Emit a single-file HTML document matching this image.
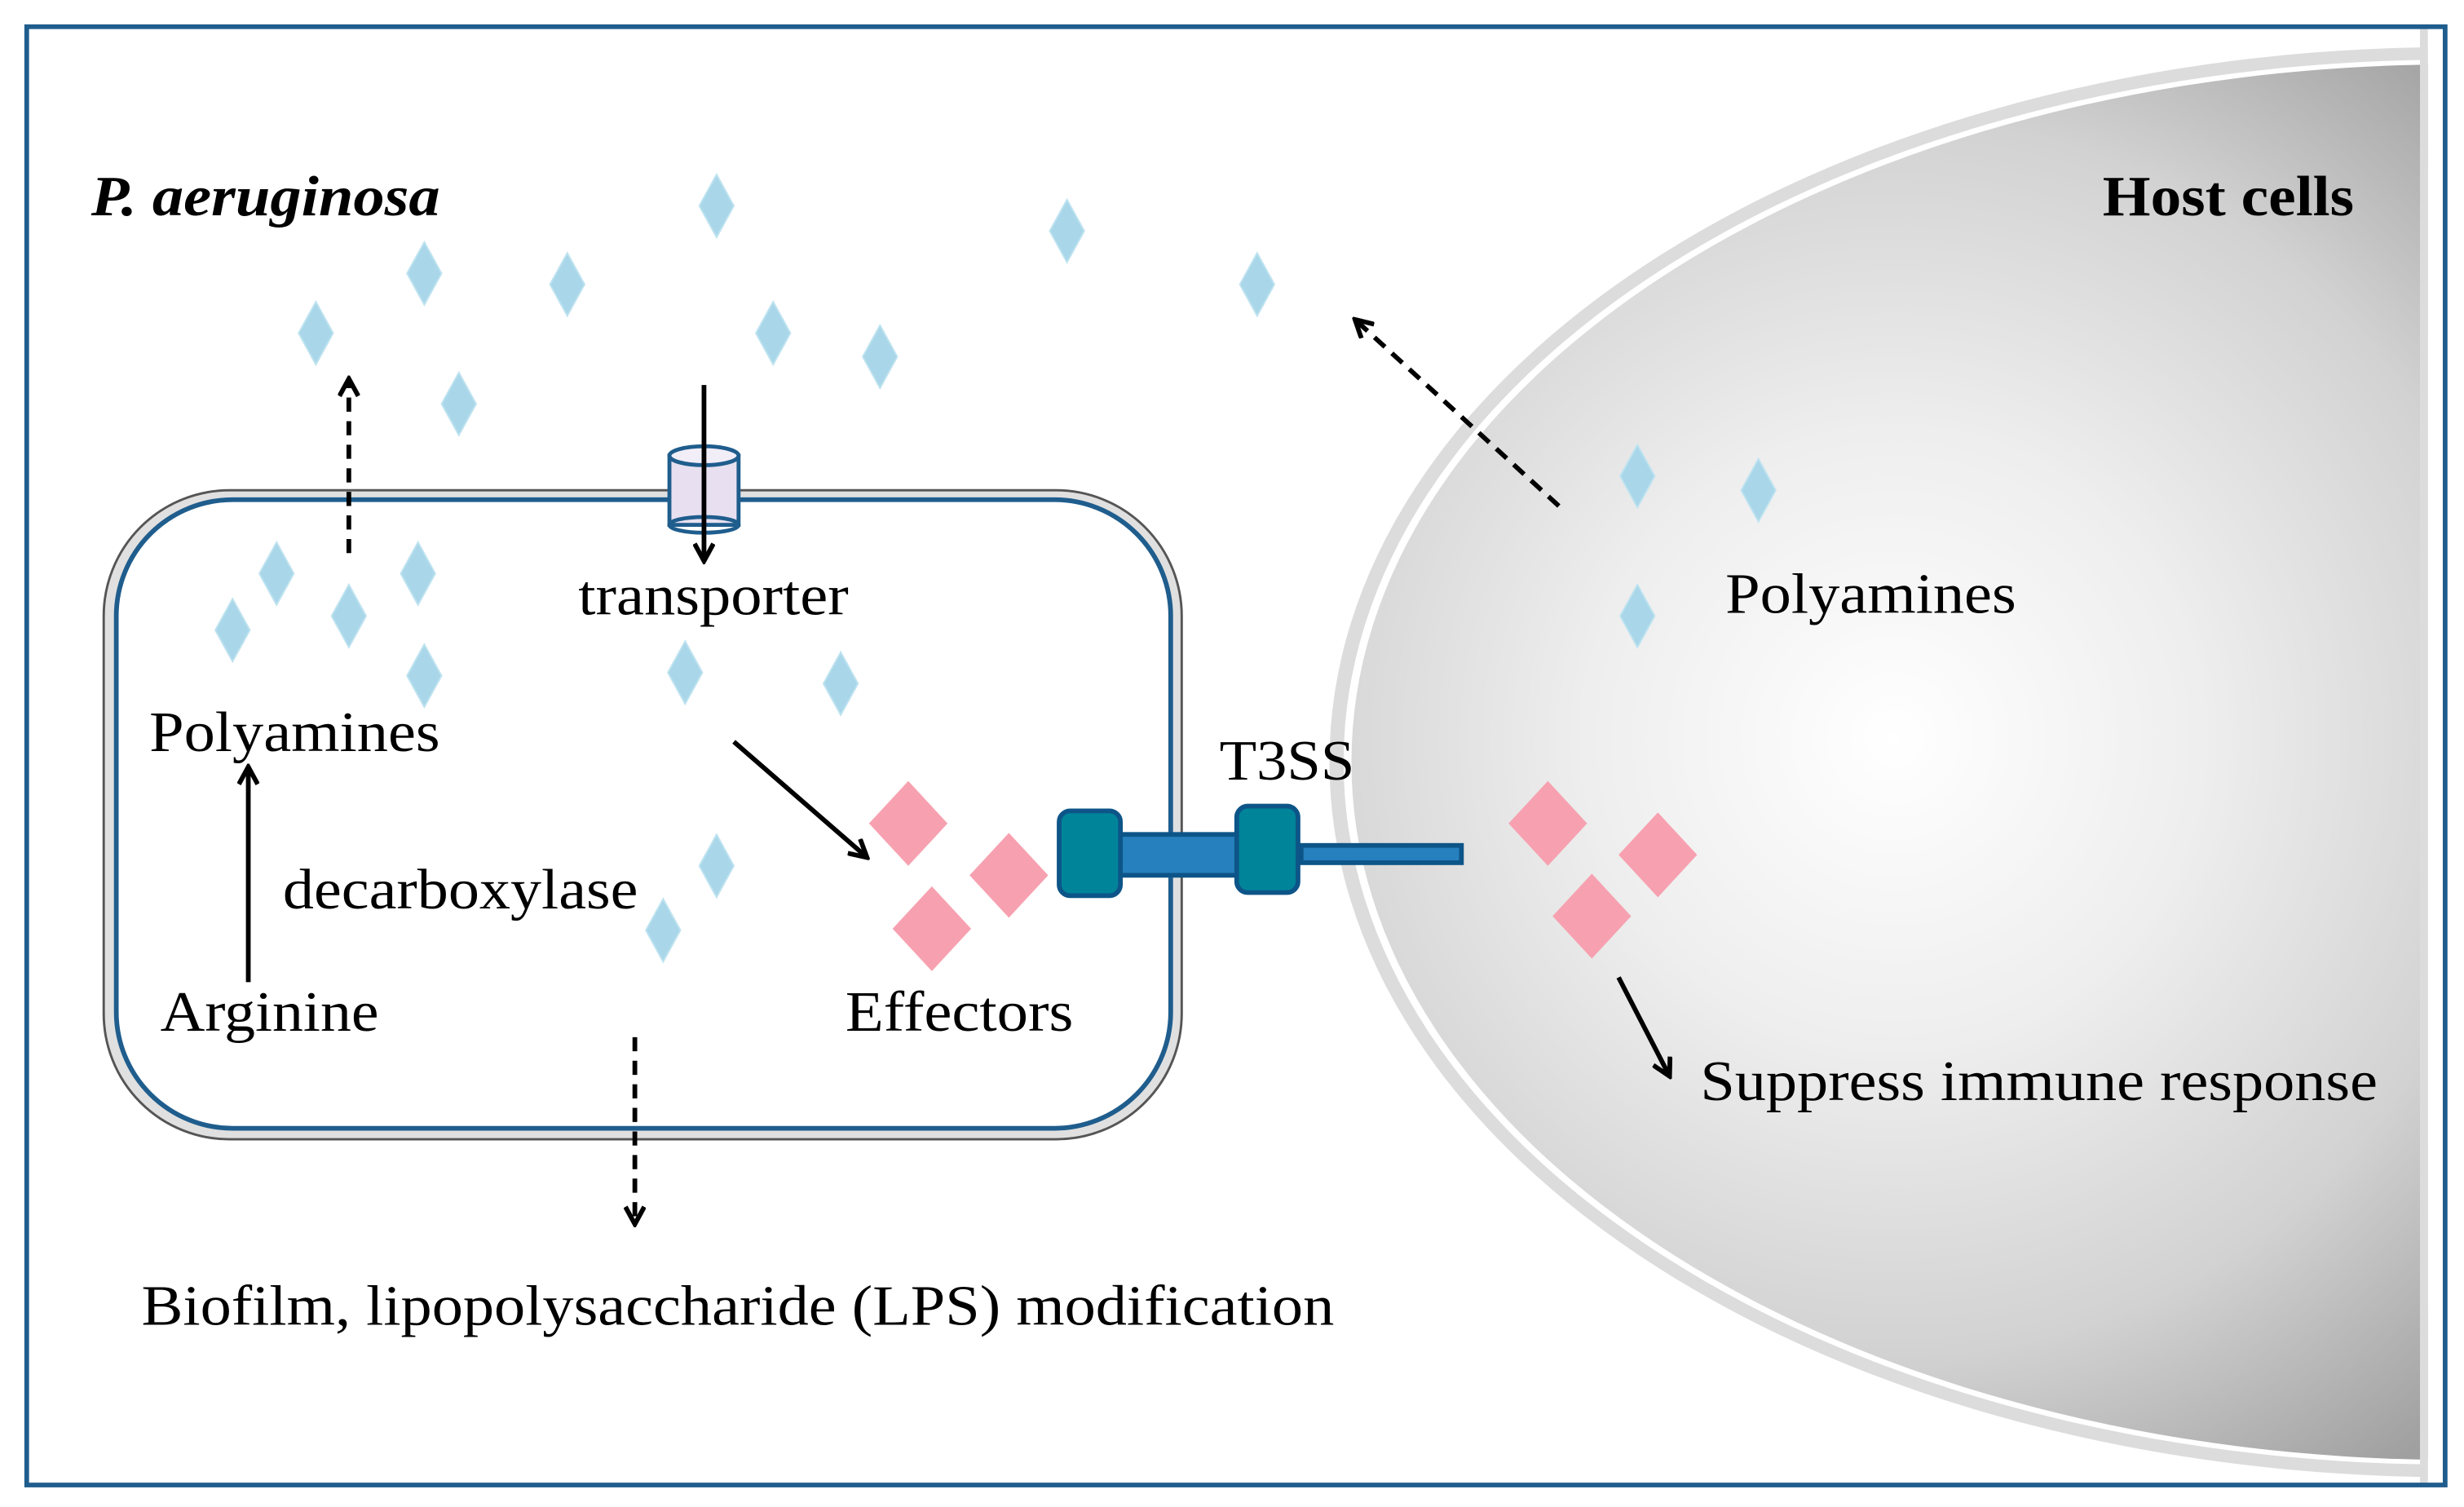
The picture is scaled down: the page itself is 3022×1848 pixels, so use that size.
<!DOCTYPE html>
<html><head><meta charset="utf-8"><style>html,body{margin:0;padding:0;background:#fff}svg{display:block}
svg text{font-family:"Liberation Serif","Times New Roman",Times,serif !important;}</style></head>
<body>
<svg width="3022" height="1848" viewBox="0 0 1568 959" preserveAspectRatio="none" xmlns="http://www.w3.org/2000/svg">
<defs>
<radialGradient id="g" cx="1205" cy="470" r="560" gradientUnits="userSpaceOnUse">
<stop offset="0" stop-color="#ffffff"/><stop offset="0.35" stop-color="#eeeeee"/><stop offset="0.7" stop-color="#d2d2d2"/><stop offset="1" stop-color="#a0a0a0"/>
</radialGradient>
<clipPath id="c"><rect x="17" y="17" width="1528" height="928"/></clipPath>
<marker id="a" markerWidth="14" markerHeight="14" refX="11" refY="7" orient="auto" markerUnits="userSpaceOnUse"><path d="M1,1 L12,7 L1,13" fill="none" stroke="#000" stroke-width="3"/></marker>
<polygon id="d" points="0,-20 11,0 0,20 -11,0" fill="#a9d6e9" stroke="#bfe3f0" stroke-width="1"/>
<polygon id="p" points="0,-27 25,0 0,27 -25,0" fill="#f7a1b0"/>
</defs>
<rect width="1568" height="959" fill="#fff"/>
<g clip-path="url(#c)">
<ellipse cx="1560" cy="485" rx="714" ry="455" fill="#dcdcdc"/>
<ellipse cx="1560" cy="485" rx="705" ry="447" fill="#fff"/>
<ellipse cx="1562" cy="485" rx="702" ry="444" fill="url(#g)"/>
<rect x="1540" y="17" width="10" height="930" fill="#dcdcdc"/>
</g>
<rect x="17" y="17" width="1539" height="928" fill="none" stroke="#1f5d8d" stroke-width="3"/>
<rect x="66" y="312" width="686" height="413" rx="80" fill="#e0e0e0" stroke="#555" stroke-width="1.5"/>
<rect x="74" y="318" width="671" height="400" rx="74" fill="#fff" stroke="#1f5d8d" stroke-width="3"/>
<rect x="426" y="290" width="44" height="44" fill="#e8e0f0" stroke="#1f5d8d" stroke-width="2.5"/>
<ellipse cx="448" cy="290" rx="22" ry="6" fill="#f2eef8" stroke="#1f5d8d" stroke-width="2.5"/>
<ellipse cx="448" cy="334" rx="22" ry="5" fill="none" stroke="#1f5d8d" stroke-width="2.5"/>
<g>
<use href="#d" x="456" y="131"/><use href="#d" x="679" y="147"/><use href="#d" x="270" y="174"/><use href="#d" x="361" y="181"/><use href="#d" x="800" y="181"/><use href="#d" x="201" y="212"/><use href="#d" x="492" y="212"/><use href="#d" x="560" y="227"/><use href="#d" x="292" y="257"/><use href="#d" x="1042" y="303"/><use href="#d" x="1119" y="312"/><use href="#d" x="176" y="365"/><use href="#d" x="266" y="365"/><use href="#d" x="222" y="392"/><use href="#d" x="148" y="401"/><use href="#d" x="1042" y="392"/><use href="#d" x="270" y="430"/><use href="#d" x="436" y="428"/><use href="#d" x="535" y="435"/><use href="#d" x="456" y="551"/><use href="#d" x="422" y="592"/>
</g>
<g>
<use href="#p" x="578" y="524"/><use href="#p" x="642" y="557"/><use href="#p" x="593" y="591"/><use href="#p" x="985" y="524"/><use href="#p" x="1055" y="544"/><use href="#p" x="1013" y="583"/>
</g>
<g stroke="#0d5588" stroke-width="3">
<rect x="712" y="531" width="76" height="26" fill="#2580bd"/>
<rect x="828" y="538" width="102" height="11" fill="#2580bd"/>
<rect x="674" y="516" width="39" height="54" rx="7" fill="#00849a"/>
<rect x="787" y="513" width="39" height="55" rx="7" fill="#00849a"/>
</g>
<g stroke="#000" stroke-width="3" fill="none" marker-end="url(#a)">
<line x1="222" y1="352" x2="222" y2="242" stroke-dasharray="9,6"/>
<line x1="448" y1="245" x2="448" y2="356"/>
<line x1="158" y1="625" x2="158" y2="489"/>
<line x1="467" y1="472" x2="551" y2="545"/>
<line x1="404" y1="660" x2="404" y2="778" stroke-dasharray="9,6"/>
<line x1="992" y1="322" x2="863" y2="204" stroke-dasharray="9,6"/>
<line x1="1030" y1="622" x2="1062" y2="684"/>
</g>
<g font-family="'Liberation Serif', Times, serif" font-size="36" fill="#000">
<text x="58" y="137" font-weight="bold" font-style="italic" textLength="222" lengthAdjust="spacingAndGlyphs">P. aeruginosa</text>
<text x="1338" y="137" font-weight="bold" textLength="160" lengthAdjust="spacingAndGlyphs">Host cells</text>
<text x="1098" y="390" textLength="185" lengthAdjust="spacingAndGlyphs">Polyamines</text>
<text x="368" y="391" textLength="172" lengthAdjust="spacingAndGlyphs">transporter</text>
<text x="95" y="478" textLength="185" lengthAdjust="spacingAndGlyphs">Polyamines</text>
<text x="180" y="578" textLength="226" lengthAdjust="spacingAndGlyphs">decarboxylase</text>
<text x="102" y="656" textLength="139" lengthAdjust="spacingAndGlyphs">Arginine</text>
<text x="538" y="656" textLength="145" lengthAdjust="spacingAndGlyphs">Effectors</text>
<text x="776" y="496" textLength="86" lengthAdjust="spacingAndGlyphs">T3SS</text>
<text x="1082" y="700" textLength="431" lengthAdjust="spacingAndGlyphs">Suppress immune response</text>
<text x="90" y="843" textLength="759" lengthAdjust="spacingAndGlyphs">Biofilm, lipopolysaccharide (LPS) modification</text>
</g>
</svg>
</body></html>
